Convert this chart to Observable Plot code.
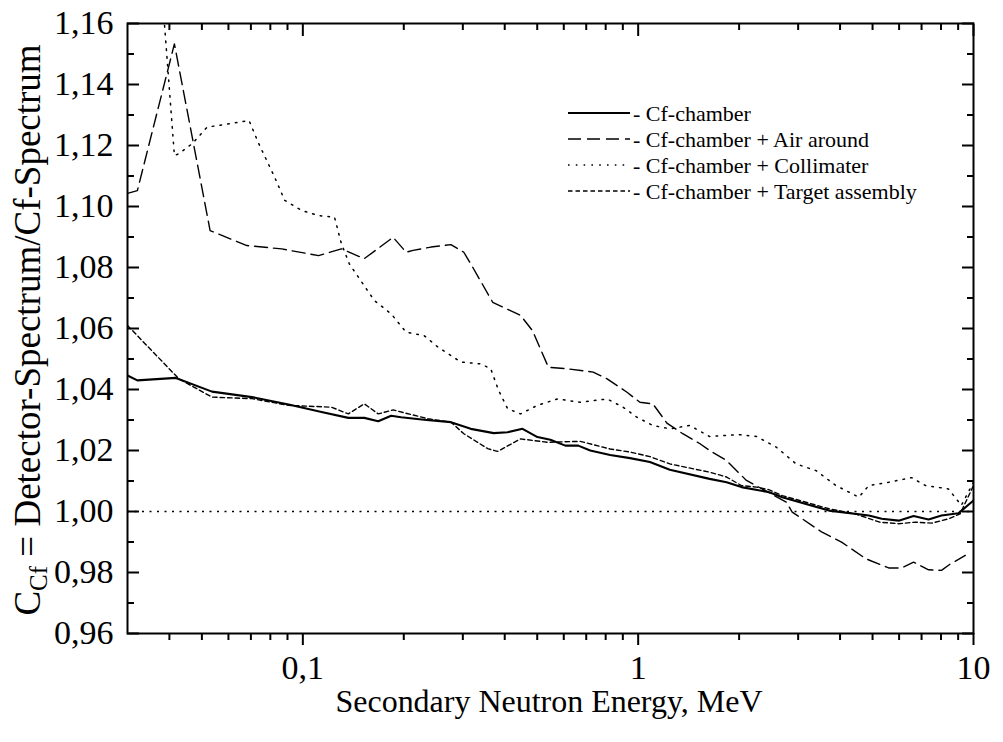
<!DOCTYPE html>
<html><head><meta charset="utf-8">
<script src="https://cdn.jsdelivr.net/npm/d3@7"></script>
<script src="https://cdn.jsdelivr.net/npm/@observablehq/plot@0.6"></script>
<style>
html,body{margin:0;padding:0;background:#fff;}
#chart{width:1003px;height:742px;}
svg{display:block}
svg text, svg tspan{font-family:"Liberation Serif","Times New Roman",serif !important;}
</style></head><body><div id="chart"></div>
<script>
// ---- data (energy in MeV, ratio C_Cf) ----
const seriesNames = ["- Cf-chamber", "- Cf-chamber + Air around", "- Cf-chamber + Collimater", "- Cf-chamber + Target assembly"];

const cfEnergy = [0.0300, 0.0321, 0.0418, 0.0536, 0.0705, 0.0907, 0.1137, 0.1367, 0.1525, 0.1678, 0.1834, 0.1964, 0.2298, 0.2764, 0.3168, 0.3708, 0.4080, 0.4520, 0.5008, 0.5473, 0.6065, 0.6627, 0.7195, 0.8247, 0.9454, 1.084, 1.243, 1.633, 1.835, 2.032, 2.461, 2.690, 3.708, 4.874, 5.325, 5.982, 6.628, 7.344, 8.026, 9.013, 10.0];
const cfRatio = [1.0446, 1.0430, 1.0438, 1.0393, 1.0375, 1.0351, 1.0326, 1.0307, 1.0307, 1.0296, 1.0314, 1.0309, 1.0301, 1.0293, 1.0271, 1.0257, 1.0260, 1.0271, 1.0244, 1.0235, 1.0216, 1.0216, 1.0200, 1.0185, 1.0175, 1.0162, 1.0137, 1.0107, 1.0096, 1.0080, 1.0063, 1.0047, 1.0003, 0.9987, 0.9976, 0.9970, 0.9985, 0.9974, 0.9987, 0.9994, 1.0036];

const airEnergy = [0.0300, 0.0321, 0.0414, 0.0529, 0.0681, 0.0865, 0.1114, 0.1303, 0.1525, 0.1859, 0.2033, 0.2132, 0.2411, 0.2764, 0.3020, 0.3168, 0.3683, 0.4459, 0.4840, 0.5399, 0.6149, 0.7344, 0.8081, 0.9263, 1.012, 1.106, 1.218, 1.358, 1.525, 1.633, 1.835, 2.103, 2.764, 2.880, 3.535, 4.052, 4.775, 5.586, 6.106, 6.628, 7.344, 8.026, 8.534, 9.454];
const airRatio = [1.1043, 1.1052, 1.1533, 1.0921, 1.0872, 1.0861, 1.0839, 1.0861, 1.0829, 1.0899, 1.0850, 1.0856, 1.0867, 1.0875, 1.0850, 1.0812, 1.0686, 1.0643, 1.0593, 1.0473, 1.0468, 1.0457, 1.0435, 1.0391, 1.0358, 1.0353, 1.0290, 1.0255, 1.0223, 1.0200, 1.0167, 1.0102, 1.0031, 0.9998, 0.9932, 0.9899, 0.9845, 0.9815, 0.9815, 0.9834, 0.9809, 0.9807, 0.9828, 0.9856];

const colEnergy = [0.0300, 0.0414, 0.0427, 0.0468, 0.0518, 0.0691, 0.0739, 0.0824, 0.0883, 0.0992, 0.1114, 0.1243, 0.1303, 0.1376, 0.1633, 0.1834, 0.2033, 0.2298, 0.2529, 0.2960, 0.3393, 0.3633, 0.3836, 0.4080, 0.4459, 0.5008, 0.5742, 0.6719, 0.8081, 0.9013, 0.9918, 1.106, 1.243, 1.425, 1.633, 2.005, 2.252, 2.581, 2.959, 3.393, 3.889, 4.551, 4.874, 5.586, 6.539, 7.195, 8.418, 9.200, 10.0];
const colRatio = [1.3200, 1.1167, 1.1173, 1.1206, 1.1260, 1.1282, 1.1206, 1.1096, 1.1020, 1.0987, 1.0970, 1.0965, 1.0878, 1.0812, 1.0692, 1.0648, 1.0588, 1.0577, 1.0539, 1.0490, 1.0484, 1.0468, 1.0397, 1.0337, 1.0320, 1.0348, 1.0369, 1.0358, 1.0369, 1.0342, 1.0309, 1.0282, 1.0271, 1.0282, 1.0246, 1.0252, 1.0246, 1.0211, 1.0156, 1.0134, 1.0085, 1.0047, 1.0085, 1.0096, 1.0111, 1.0085, 1.0074, 1.0020, 1.0096];

const tgtEnergy = [0.0300, 0.0427, 0.0536, 0.0705, 0.0907, 0.1217, 0.1367, 0.1525, 0.1678, 0.1859, 0.2362, 0.2764, 0.3020, 0.3559, 0.3810, 0.4459, 0.5362, 0.6719, 0.8247, 0.9454, 1.084, 1.243, 1.633, 1.835, 2.032, 2.252, 2.461, 2.690, 3.708, 4.449, 5.253, 5.982, 6.707, 7.509, 8.418, 9.119, 10.0];
const tgtRatio = [1.0610, 1.0435, 1.0375, 1.0370, 1.0348, 1.0342, 1.0320, 1.0353, 1.0320, 1.0333, 1.0304, 1.0293, 1.0255, 1.0206, 1.0197, 1.0238, 1.0227, 1.0230, 1.0205, 1.0195, 1.0180, 1.0156, 1.0129, 1.0113, 1.0085, 1.0080, 1.0071, 1.0052, 1.0009, 0.9992, 0.9965, 0.9960, 0.9965, 0.9962, 0.9976, 0.9992, 1.0085];

const referenceLevel = [1.00];
const yMajorTicks = [0.96, 0.98, 1.00, 1.02, 1.04, 1.06, 1.08, 1.10, 1.12, 1.14, 1.16];
const yMinorTicks = [0.97, 0.99, 1.01, 1.03, 1.05, 1.07, 1.09, 1.11, 1.13, 1.15];
const xMajorTicks = [0.1, 1, 10];
const xTickLabels = ["0,1", "1", "10"];
const xMinorTicks = [0.04, 0.05, 0.06, 0.07, 0.08, 0.09, 0.2, 0.3, 0.4, 0.5, 0.6, 0.7, 0.8, 0.9, 2, 3, 4, 5, 6, 7, 8, 9];

// ---- build tables ----
const toRows = (E, R) => E.map((e, i) => ({e, r: R[i]}));
const series = [
  {rows: toRows(cfEnergy, cfRatio), width: 2.1, dash: null},
  {rows: toRows(airEnergy, airRatio), width: 1.4, dash: "13,6"},
  {rows: toRows(colEnergy, colRatio), width: 1.5, dash: "1.6,6.2"},
  {rows: toRows(tgtEnergy, tgtRatio), width: 1.4, dash: "4.5,3"}
];

const yFmt = d => d3.format(".2f")(d).replace(".", ",");
const xFmt = d => xTickLabels[xMajorTicks.indexOf(d)] ?? "";
const none = () => "";
const FONT = "Liberation Serif, Times New Roman, serif";

const plot = Plot.plot({
  width: 1003, height: 742,
  marginLeft: 127, marginRight: 30, marginTop: 23, marginBottom: 109,
  style: {fontFamily: FONT, background: "white", color: "black"},
  x: {type: "log", domain: [0.03, 10], label: null},
  y: {domain: [0.96, 1.16], label: null},
  marks: [
    Plot.ruleY(referenceLevel, {stroke: "black", strokeWidth: 1.6, strokeDasharray: "2,5.5"}),
    ...series.map(s => Plot.line(s.rows, {x: "e", y: "r", stroke: "black", strokeWidth: s.width, strokeDasharray: s.dash, clip: true})),
    Plot.frame({stroke: "black", strokeWidth: 2}),
    Plot.axisY(yMajorTicks, {anchor: "left", tickSize: -12, tickPadding: 26, tickFormat: yFmt, fontSize: 34, strokeWidth: 2, label: null}),
    Plot.axisY(yMinorTicks, {anchor: "left", tickSize: -7, tickFormat: none, strokeWidth: 2, label: null}),
    Plot.axisY(yMajorTicks, {anchor: "right", tickSize: -12, tickFormat: none, strokeWidth: 2, label: null}),
    Plot.axisY(yMinorTicks, {anchor: "right", tickSize: -7, tickFormat: none, strokeWidth: 2, label: null}),
    Plot.axisX(xMajorTicks, {anchor: "bottom", tickSize: 12, tickPadding: 9, tickFormat: xFmt, fontSize: 34, strokeWidth: 2, label: null}),
    Plot.axisX(xMinorTicks, {anchor: "bottom", tickSize: 7, tickFormat: none, strokeWidth: 2, label: null}),
    Plot.axisX(xMajorTicks, {anchor: "top", tickSize: -12, tickFormat: none, strokeWidth: 2, label: null}),
    Plot.axisX(xMinorTicks, {anchor: "top", tickSize: -6, tickFormat: none, strokeWidth: 2, label: null})
  ]
});

const svg = d3.select(plot);
// x-axis title
svg.append("text")
  .attr("x", 549).attr("y", 712)
  .attr("text-anchor", "middle")
  .attr("font-size", 32).attr("fill", "black")
  .attr("textLength", 427).attr("lengthAdjust", "spacingAndGlyphs")
  .text("Secondary Neutron Energy, MeV");
// y-axis title
const yt = svg.append("text")
  .attr("transform", "translate(40,330) rotate(-90)")
  .attr("text-anchor", "middle")
  .attr("font-size", 37).attr("fill", "black");
yt.append("tspan").text("C");
yt.append("tspan").attr("font-size", 25).attr("dy", 7).text("Cf");
yt.append("tspan").attr("dy", -7).text(" = Detector-Spectrum/Cf-Spectrum");

// legend
const legendY = [113, 139, 165, 191];
const lg = svg.append("g").attr("font-size", 22).attr("fill", "black").attr("text-anchor", "start");
series.forEach((s, i) => {
  lg.append("line")
    .attr("x1", 568).attr("x2", 630).attr("y1", legendY[i]).attr("y2", legendY[i])
    .attr("stroke", "black").attr("stroke-width", s.width)
    .attr("stroke-dasharray", s.dash);
  lg.append("text").attr("x", 633).attr("y", legendY[i]).attr("dy", "0.35em").attr("text-anchor", "start").text(seriesNames[i]);
});

document.getElementById("chart").appendChild(plot);
</script></body></html>
